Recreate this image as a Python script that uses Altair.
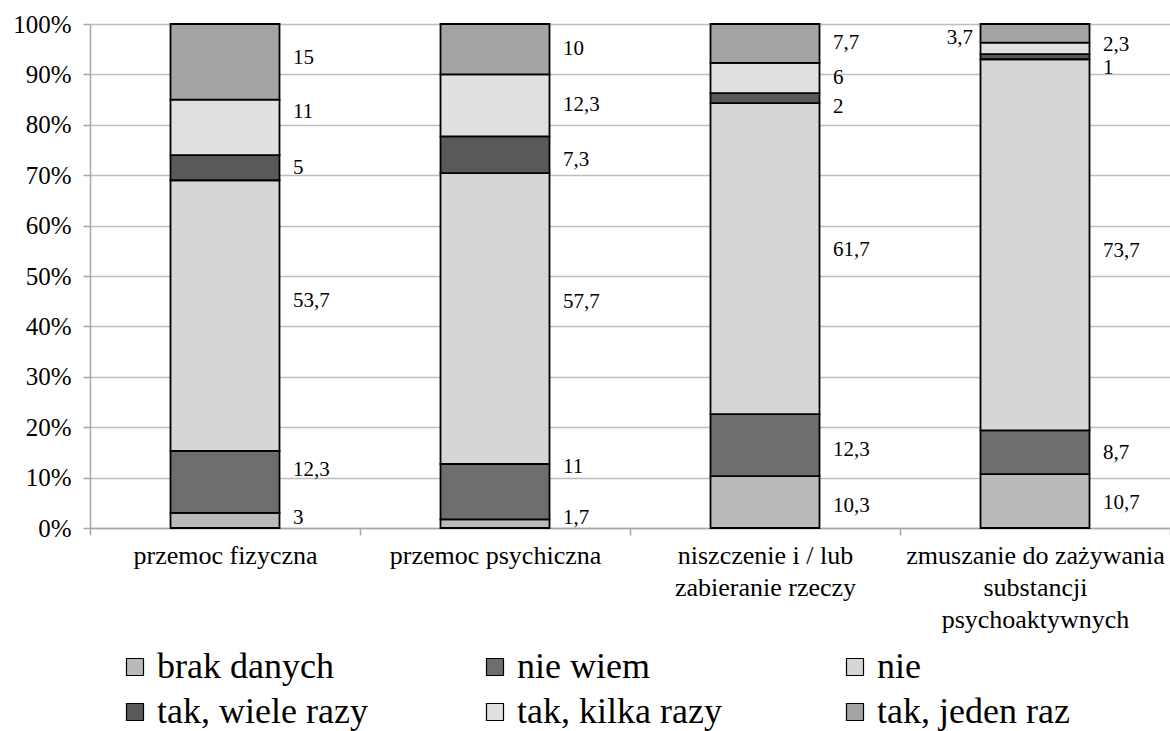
import altair as alt
import pandas as pd

categories = [
    "przemoc fizyczna",
    "przemoc psychiczna",
    "niszczenie i / lub|zabieranie rzeczy",
    "zmuszanie do zażywania|substancji|psychoaktywnych",
]
series = ["brak danych", "nie wiem", "nie", "tak, wiele razy", "tak, kilka razy", "tak, jeden raz"]
values = {
    "brak danych": [3, 1.7, 10.3, 10.7],
    "nie wiem": [12.3, 11, 12.3, 8.7],
    "nie": [53.7, 57.7, 61.7, 73.7],
    "tak, wiele razy": [5, 7.3, 2, 1],
    "tak, kilka razy": [11, 12.3, 6, 2.3],
    "tak, jeden raz": [15, 10, 7.7, 3.7],
}
fills = ["#bababa", "#6e6e6e", "#d6d6d6", "#595959", "#e0e0e0", "#a4a4a4"]

# data-label placement: shift from segment midpoint (percentage points), per category,
# in series order; plus one label drawn on the left side of its bar
label_shift = [
    [0.4, 2.4, 2.8, 0.0, 3.0, 0.8],
    [1.2, 5.0, 3.3, -1.0, 0.0, 0.0],
    [-0.8, -1.0, 1.8, -1.8, 0.0, 0.0],
    [-0.4, -0.2, -1.2, -2.2, 0.6, -1.0],
]
left_side = {(3, 5)}

rows = []
for ci, c in enumerate(categories):
    total = sum(values[s][ci] for s in series)
    cum = 0.0
    for si, s in enumerate(series):
        v = values[s][ci]
        mid = cum + v / 2 + label_shift[ci][si]
        cum += v
        lab = (f"{v:g}").replace(".", ",")
        rows.append({
            "cat": c, "series": s, "order": si, "value": v,
            "ypos": mid / total, "label": lab,
            "side": "left" if (ci, si) in left_side else "right",
        })
df = pd.DataFrame(rows)

FONT = "Liberation Serif"

x_enc = alt.X(
    "cat:N", sort=categories, title=None,
    scale=alt.Scale(paddingInner=0, paddingOuter=0),
    axis=alt.Axis(
        labelExpr="split(datum.label, '|')", labelAngle=0, labelFont=FONT,
        labelFontSize=26, labelLineHeight=32, labelColor="black", labelLimit=400,
        labelPadding=7, tickBand="extent", tickSize=7, tickColor="#a6a6a6",
        domainColor="#a6a6a6", domainWidth=1.5, tickWidth=1.5, grid=False,
        labelBaseline="top",
    ),
)

bars = alt.Chart(df).mark_bar(size=109, stroke="black", strokeWidth=1.8).encode(
    x=x_enc,
    y=alt.Y(
        "value:Q", stack="normalize", title=None,
        scale=alt.Scale(domain=[0, 1], nice=False),
        axis=alt.Axis(
            format=".0%", values=[i / 10 for i in range(11)], labelFont=FONT,
            labelFontSize=25, labelColor="black", labelPadding=12,
            tickSize=7, tickColor="#a6a6a6", tickWidth=1.5,
            domainColor="#a6a6a6", domainWidth=1.5,
            gridColor="#bdbdbd", gridWidth=1.5,
        ),
    ),
    color=alt.Color(
        "series:N", sort=series,
        scale=alt.Scale(domain=series, range=fills),
        legend=alt.Legend(
            title=None, orient="none", legendX=27, legendY=625,
            direction="horizontal", columns=3, columnPadding=109, rowPadding=9,
            gridAlign="all", symbolType="square", symbolSize=289,
            symbolStrokeColor="black", symbolStrokeWidth=1.2,
            labelFont=FONT, labelFontSize=36, labelColor="black",
            labelOffset=4, labelLimit=400,
        ),
    ),
    order=alt.Order("order:Q", sort="ascending"),
)

text_right = alt.Chart(df).transform_filter("datum.side == 'right'").mark_text(
    align="left", baseline="middle", dx=68, font=FONT, fontSize=21, color="black"
).encode(
    x=alt.X("cat:N", sort=categories),
    y=alt.Y("ypos:Q"),
    text="label:N",
)

text_left = alt.Chart(df).transform_filter("datum.side == 'left'").mark_text(
    align="right", baseline="middle", dx=-62, font=FONT, fontSize=21, color="black"
).encode(
    x=alt.X("cat:N", sort=categories),
    y=alt.Y("ypos:Q"),
    text="label:N",
)

chart = alt.layer(bars, text_right, text_left).properties(
    width=1080, height=504,
    autosize=alt.AutoSizeParams(type="none"),
    padding={"left": 90, "top": 24, "right": 0, "bottom": 203},
    background="white",
).configure_view(stroke=None)

chart.save("out.html", embed_options={"renderer": "svg", "actions": False})
